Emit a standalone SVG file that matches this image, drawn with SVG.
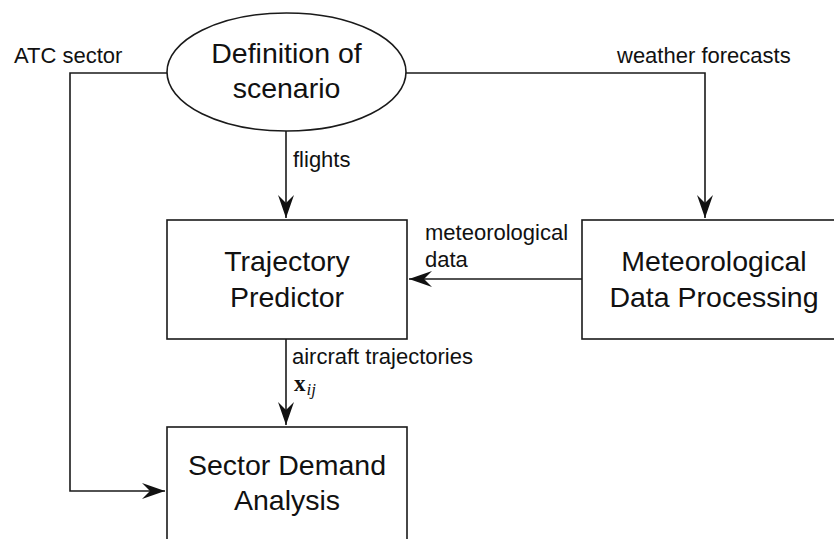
<svg xmlns="http://www.w3.org/2000/svg" width="834" height="539" viewBox="0 0 834 539">
<style>
.shape{fill:#fff;stroke:#1a1a1a;stroke-width:1.6}
.line{fill:none;stroke:#1a1a1a;stroke-width:1.6}
.node{font-family:"Liberation Sans",Arial,sans-serif;font-size:28.5px;fill:#111;text-anchor:middle}
.lbl{font-family:"Liberation Sans",Arial,sans-serif;font-size:22px;fill:#111}
</style>
<defs>
<marker id="arr" markerUnits="userSpaceOnUse" markerWidth="30" markerHeight="20" viewBox="-24 -10 26 20" refX="0" refY="0" orient="auto">
<path d="M0,0 L-23,-8 L-15,0 L-23,8 Z" fill="#111"/>
</marker>
</defs>
<g id="connectors">
<path class="line" d="M167,73 H70 V491 H165" marker-end="url(#arr)"/>
<path class="line" d="M406,73 H705 V218" marker-end="url(#arr)"/>
<path class="line" d="M286,131 V218" marker-end="url(#arr)"/>
<path class="line" d="M582,279 H409" marker-end="url(#arr)"/>
<path class="line" d="M286,339 V425" marker-end="url(#arr)"/>
</g>
<g id="labels">
<text class="lbl" x="14" y="63">ATC sector</text>
<text class="lbl" x="617" y="63">weather forecasts</text>
<text class="lbl" x="293" y="167">flights</text>
<text class="lbl" x="425" y="240">meteorological</text>
<text class="lbl" x="425" y="267">data</text>
<text class="lbl" x="292" y="364">aircraft trajectories</text>
<text x="294" y="391" font-family="'Liberation Serif','DejaVu Serif',serif" fill="#111"><tspan font-size="23px" font-weight="bold">x</tspan><tspan font-size="17px" font-style="italic" dy="4" dx="1">ij</tspan></text>
</g>
<g id="definition">
<ellipse class="shape" cx="286.5" cy="72" rx="119.5" ry="59"/>
<text class="node" x="286.5" y="63">Definition of</text>
<text class="node" x="286.5" y="98">scenario</text>
</g>
<g id="trajectory">
<rect class="shape" x="167" y="220" width="240" height="119"/>
<text class="node" x="287" y="271">Trajectory</text>
<text class="node" x="287" y="307">Predictor</text>
</g>
<g id="meteo">
<rect class="shape" x="582" y="220" width="264" height="119"/>
<text class="node" x="714" y="271">Meteorological</text>
<text class="node" x="714" y="307">Data Processing</text>
</g>
<g id="sector">
<rect class="shape" x="167" y="427" width="240" height="130"/>
<text class="node" x="287" y="475">Sector Demand</text>
<text class="node" x="287" y="510">Analysis</text>
</g>
</svg>
